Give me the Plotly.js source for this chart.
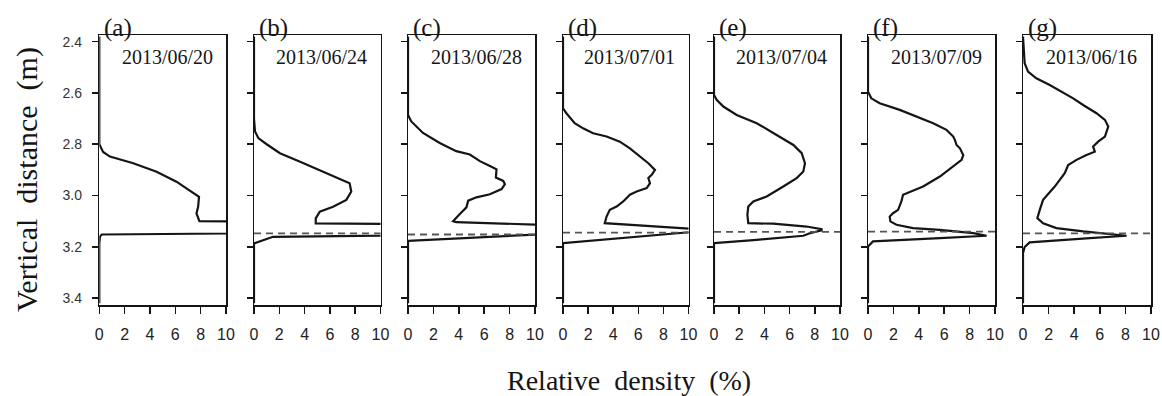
<!DOCTYPE html>
<html>
<head>
<meta charset="utf-8">
<script src="https://cdn.plot.ly/plotly-3.0.1.min.js"></script>
<style>
html,body{margin:0;padding:0;background:#fff;}
#chart{width:1162px;height:396px;}
</style>
</head>
<body>
<div id="chart"></div>
<script>
// ---------------- data ----------------
const panelLetters = ["(a)", "(b)", "(c)", "(d)", "(e)", "(f)", "(g)"];
const surveyDates = ["2013/06/20", "2013/06/24", "2013/06/28", "2013/07/01", "2013/07/04", "2013/07/09", "2013/06/16"];
const densityTicks = [0, 2, 4, 6, 8, 10];
const depthTicks = [2.4, 2.6, 2.8, 3.0, 3.2, 3.4];
const depthTickText = ["2.4", "2.6", "2.8", "3.0", "3.2", "3.4"];
const referenceDepth = [null, 3.148, 3.152, 3.145, 3.142, 3.141, 3.148];

const depthA = [2.38, 2.80, 2.83, 2.848, 2.874, 2.907, 2.946, 2.99, 3.005, 3.044, 3.07, 3.10, 3.128, 3.152, 3.16, 3.19, 3.42];
const densA  = [0, 0, 0.3, 0.84, 2.68, 4.52, 6.09, 7.4, 7.87, 7.8, 7.67, 7.9, 60, 0.2, 0.05, 0, 0];

const depthB = [2.38, 2.70, 2.75, 2.776, 2.80, 2.835, 2.867, 2.907, 2.933, 2.952, 2.985, 3.017, 3.044, 3.063, 3.089, 3.109, 3.13, 3.161, 3.187, 3.42];
const densB  = [0, 0, 0.08, 0.34, 1.0, 2.05, 3.6, 5.46, 6.77, 7.56, 7.69, 7.3, 6.25, 5.2, 4.88, 4.88, 60, 1.5, 0, 0];

const depthC = [2.38, 2.686, 2.711, 2.756, 2.795, 2.827, 2.84, 2.866, 2.885, 2.898, 2.93, 2.943, 2.956, 2.975, 2.995, 3.007, 3.02, 3.046, 3.072, 3.10, 3.104, 3.128, 3.177, 3.42];
const densC  = [0, 0, 0.26, 1.18, 2.5, 3.8, 4.87, 5.66, 6.45, 6.97, 6.92, 7.5, 7.63, 7.37, 6.45, 5.39, 4.74, 4.6, 4.08, 3.55, 3.8, 20, 0, 0];

const depthD = [2.38, 2.66, 2.679, 2.705, 2.718, 2.738, 2.757, 2.77, 2.79, 2.816, 2.848, 2.874, 2.90, 2.919, 2.932, 2.952, 2.971, 2.984, 2.997, 3.023, 3.043, 3.056, 3.082, 3.108, 3.135, 3.186, 3.42];
const densD  = [0, 0, 0.27, 0.67, 0.93, 1.6, 2.4, 3.47, 4.53, 5.33, 6.13, 6.8, 7.33, 7.07, 6.8, 6.93, 6.67, 5.87, 5.33, 4.8, 4.27, 3.73, 3.47, 3.33, 12, 0, 0];

const depthE = [2.38, 2.608, 2.627, 2.653, 2.686, 2.718, 2.764, 2.803, 2.835, 2.874, 2.906, 2.932, 2.965, 3.004, 3.023, 3.043, 3.075, 3.108, 3.11, 3.121, 3.131, 3.136, 3.147, 3.157, 3.173, 3.186, 3.42];
const densE  = [0, 0, 0.21, 0.74, 1.8, 3.39, 4.97, 6.3, 6.96, 7.22, 7.09, 6.56, 5.5, 4.18, 3.12, 2.72, 2.65, 2.72, 4.7, 7.35, 8.54, 8.54, 7.6, 7.09, 3.39, 0, 0];

const depthF = [2.38, 2.595, 2.621, 2.64, 2.666, 2.692, 2.718, 2.744, 2.77, 2.783, 2.803, 2.816, 2.842, 2.861, 2.887, 2.926, 2.965, 2.984, 2.997, 3.023, 3.056, 3.069, 3.082, 3.101, 3.114, 3.127, 3.134, 3.147, 3.157, 3.166, 3.179, 3.199, 3.42];
const densF  = [0, 0, 0.26, 0.92, 2.5, 3.82, 5.13, 6.18, 6.71, 6.84, 6.97, 7.24, 7.5, 7.37, 6.71, 5.66, 4.34, 3.42, 2.76, 2.63, 2.37, 1.97, 1.71, 1.76, 2.24, 3.55, 5.66, 8.29, 9.34, 5.66, 0.39, 0, 0];

const depthG = [2.38, 2.458, 2.484, 2.517, 2.543, 2.569, 2.595, 2.621, 2.647, 2.679, 2.705, 2.731, 2.77, 2.79, 2.809, 2.829, 2.842, 2.861, 2.881, 2.913, 2.965, 3.017, 3.056, 3.088, 3.108, 3.127, 3.14, 3.149, 3.157, 3.166, 3.183, 3.201, 3.225, 3.42];
const densG  = [0, 0.08, 0.13, 0.39, 1.04, 2.09, 3.0, 3.92, 4.7, 5.74, 6.4, 6.66, 6.4, 5.87, 5.48, 5.61, 4.96, 4.18, 3.53, 3.26, 2.48, 1.57, 1.31, 1.12, 1.57, 2.61, 4.7, 6.53, 8.09, 5.22, 0.52, 0.13, 0, 0];

const profileDepths = [depthA, depthB, depthC, depthD, depthE, depthF, depthG];
const profileDensities = [densA, densB, densC, densD, densE, densF, densG];

// ---------------- layout ----------------
const W = 1162, H = 396;
const panelPx = [[99.3, 226], [254, 380.5], [408, 535], [563, 688.5], [714, 840], [868, 995], [1023, 1151]];
const boxTop = 35, boxBottom = 305;
const yDomain = [(H - boxBottom) / H, (H - boxTop) / H];
const depthRange = [3.427, 2.374];

const serif = "Liberation Serif, Times New Roman, serif";
const sans = "Liberation Sans, Arial, sans-serif";
const ink = "#151515";

const traces = [];
const layout = {
  width: W, height: H,
  margin: {l: 0, r: 0, t: 0, b: 0},
  paper_bgcolor: "#ffffff",
  plot_bgcolor: "#ffffff",
  showlegend: false,
  annotations: [],
  shapes: []
};

for (let i = 0; i < 7; i++) {
  const n = i + 1;
  const xs = n === 1 ? "x" : "x" + n;
  const ys = n === 1 ? "y" : "y" + n;
  const xk = n === 1 ? "xaxis" : "xaxis" + n;
  const yk = n === 1 ? "yaxis" : "yaxis" + n;

  traces.push({
    type: "scatter", mode: "lines",
    x: profileDensities[i], y: profileDepths[i],
    xaxis: xs, yaxis: ys,
    line: {color: ink, width: 2.2, shape: "linear"},
    hoverinfo: "skip"
  });

  layout[xk] = {
    domain: [panelPx[i][0] / W, panelPx[i][1] / W],
    anchor: ys,
    range: [0, 10],
    tickmode: "array", tickvals: densityTicks,
    ticktext: densityTicks.map(String),
    ticks: "outside", ticklen: 7, tickwidth: 1.5, tickcolor: ink,
    ticklabelstandoff: 7,
    tickfont: {family: sans, size: 16, color: "#222"},
    showline: true, mirror: true, linecolor: ink, linewidth: 1.5,
    showgrid: false, zeroline: false, fixedrange: true
  };
  layout[yk] = {
    domain: yDomain,
    anchor: xs,
    range: depthRange,
    tickmode: "array", tickvals: depthTicks, ticktext: depthTickText,
    showticklabels: n === 1,
    ticks: "outside", ticklen: 6, tickwidth: 1.5, tickcolor: ink,
    ticklabelstandoff: 7,
    tickfont: {family: sans, size: 14, color: "#333"},
    showline: true, mirror: true, linecolor: ink, linewidth: 1.5,
    showgrid: false, zeroline: false, fixedrange: true
  };

  if (referenceDepth[i] !== null) {
    layout.shapes.push({
      type: "line", xref: xs + " domain", yref: ys,
      x0: 0, x1: 1, y0: referenceDepth[i], y1: referenceDepth[i],
      line: {color: "#555", width: 1.8, dash: "7px,5px"}
    });
  }

  layout.annotations.push({
    text: panelLetters[i], showarrow: false,
    xref: xs + " domain", yref: ys + " domain",
    x: 0.02, y: 1, xanchor: "left", yanchor: "middle", yshift: 7,
    font: {family: serif, size: 25, color: ink}
  });
  layout.annotations.push({
    text: surveyDates[i], showarrow: false,
    xref: xs + " domain", yref: ys + " domain",
    x: 0.91, y: 1, xanchor: "right", yanchor: "middle", yshift: -22,
    font: {family: serif, size: 20, color: ink}
  });
}

layout.annotations.push({
  text: "Relative\u00A0\u00A0density\u00A0\u00A0(%)", showarrow: false,
  xref: "paper", yref: "paper", x: 629 / W, y: (H - 380) / H,
  xanchor: "center", yanchor: "middle",
  font: {family: serif, size: 28, color: ink}
});
layout.annotations.push({
  text: "Vertical\u00A0\u00A0distance\u00A0\u00A0(m)", showarrow: false,
  xref: "paper", yref: "paper", x: 27 / W, y: (H - 180) / H,
  xanchor: "center", yanchor: "middle", textangle: -90,
  font: {family: serif, size: 30, color: ink}
});

Plotly.newPlot("chart", traces, layout, {displayModeBar: false, staticPlot: true});
</script>
</body>
</html>
